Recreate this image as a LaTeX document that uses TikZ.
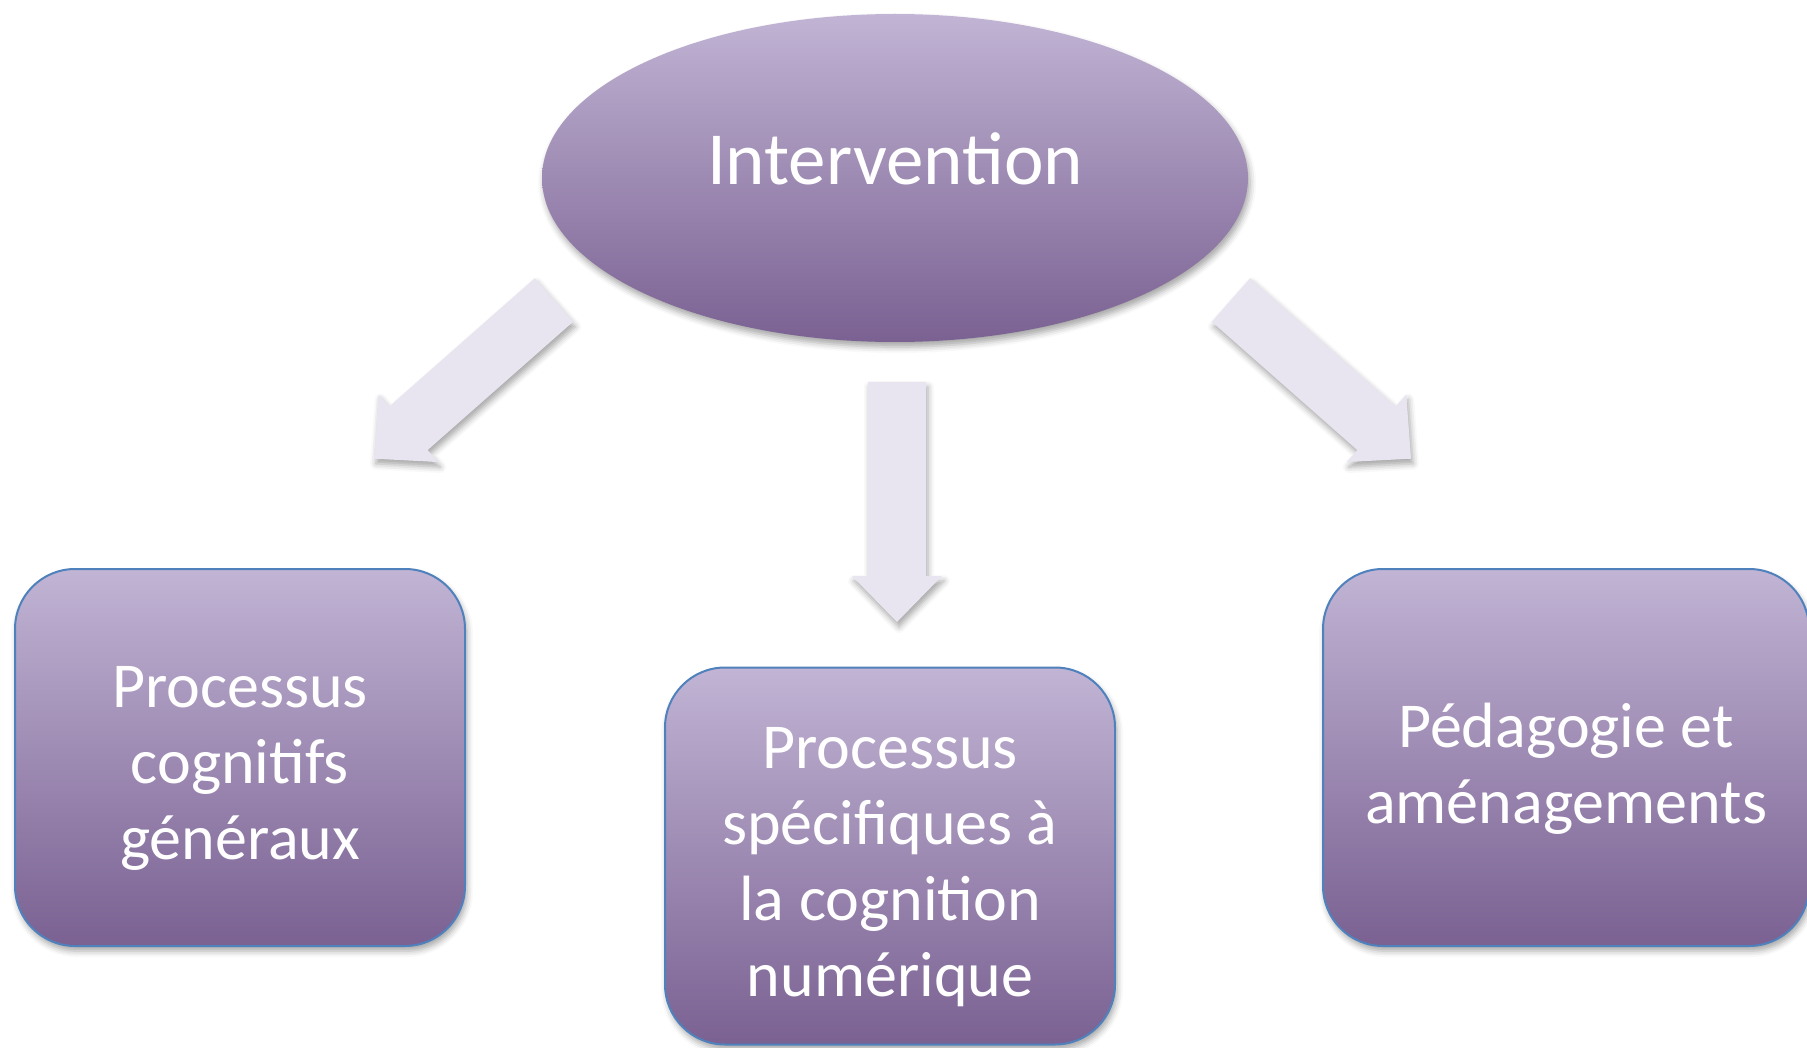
\documentclass[tikz,border=0pt]{standalone}
\usepackage{fontspec}
\setmainfont{Carlito}
\usetikzlibrary{shapes.geometric,shadows.blur}

\definecolor{lilahaut}{RGB}{193,180,212}
\definecolor{lilabas}{RGB}{122,97,146}
\definecolor{bord}{RGB}{79,129,189}
\definecolor{fleche}{RGB}{232,228,240}

\begin{document}
\begin{tikzpicture}[x=1pt,y=-1pt,
    ombre/.style={blur shadow={shadow xshift=2pt,shadow yshift=-5pt,shadow blur radius=6pt,shadow opacity=35}},
    boite/.style={rectangle,rounded corners=60pt,draw=bord,line width=2pt,
      top color=lilahaut,bottom color=lilabas,minimum height=377pt,ombre},
    texteboite/.style={text=white,align=center,yshift=-11pt,
      font=\fontsize{64}{76}\selectfont},
    pics/grossefleche/.style={code={
      \path[fill=fleche,ombre] (0,-29) -- (194,-29) -- (194,-45) -- (240,0)
        -- (194,45) -- (194,29) -- (0,29) -- cycle;}}]
  \useasboundingbox (0,0) rectangle (1807,1048);

  \node[ellipse,minimum width=706pt,minimum height=328pt,
    top color=lilahaut,bottom color=lilabas,ombre,
    text=white,font=\fontsize{75}{88}\selectfont,
    text height=52pt,text depth=38pt] (interv) at (895,178) {Intervention};

  \node[boite,minimum width=450pt,
    label={[texteboite]center:{Processus\\cognitifs\\généraux}}] (generaux) at (240,757.5) {};
  \node[boite,minimum width=450pt,
    label={[texteboite]center:{Processus\\spécifiques à\\la cognition\\numérique}}] (specif) at (890,856) {};
  \node[boite,minimum width=486pt,
    label={[texteboite]center:{Pédagogie et\\aménagements}}] (pedago) at (1566,757.5) {};

  % departs des fleches
  \coordinate (fg) at (554,300);
  \coordinate (fm) at (897,382);
  \coordinate (fd) at (1231,300);

  \pic[rotate=-138.6] at (fg) {grossefleche};
  \pic[rotate=-90] at (fm) {grossefleche};
  \pic[rotate=-41.4] at (fd) {grossefleche};
\end{tikzpicture}
\end{document}
